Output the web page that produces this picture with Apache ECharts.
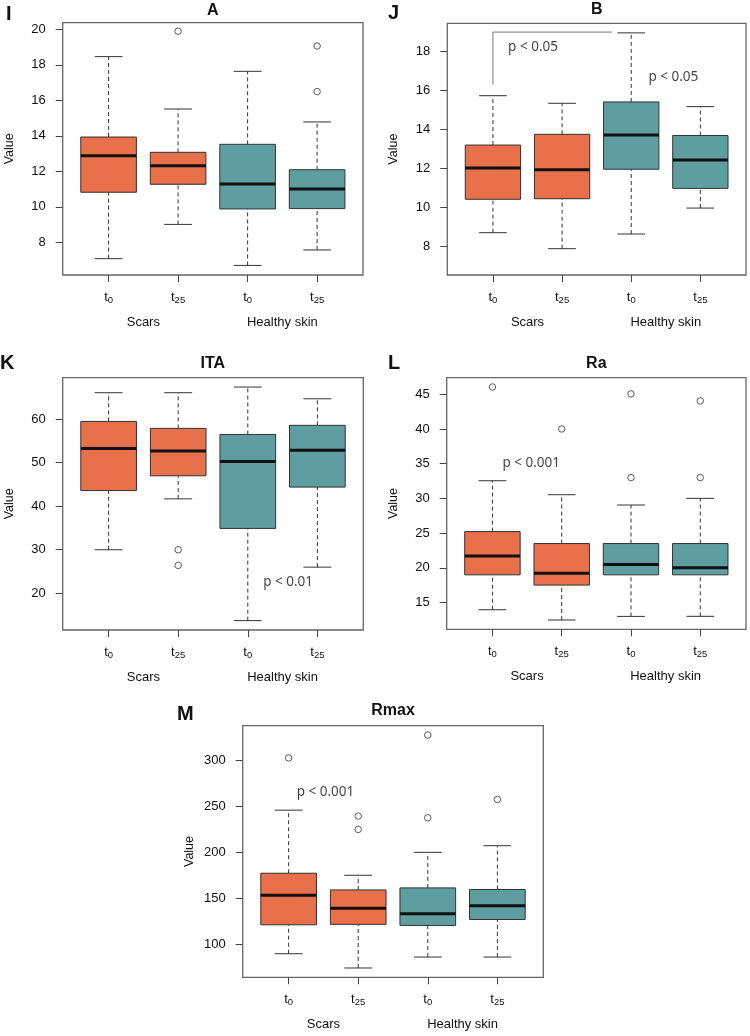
<!DOCTYPE html>
<html>
<head>
<meta charset="utf-8">
<script src="https://cdn.jsdelivr.net/npm/echarts@6/dist/echarts.min.js"></script>
<style>
html,body{margin:0;padding:0;background:#fff;}
#chart{width:750px;height:1036px;}
</style>
</head>
<body>
<div id="chart"></div>
<script>
// ---------------- data ----------------
const xPos = [1, 2, 3, 4];
const tickBase = 't';
const tickSub = ['0', '25', '0', '25'];
const groupLabels = ['Scars', 'Healthy skin'];
const groupPos = [1.5, 3.5];
const boxGroup = [0, 0, 1, 1];
const panelTitles = ['A', 'B', 'ITA', 'Ra', 'Rmax'];
const panelLetters = ['I', 'J', 'K', 'L', 'M'];

// [low whisker, Q1, median, Q3, high whisker]
const statsA = [[7.08, 10.82, 12.88, 13.93, 18.46], [9.01, 11.27, 12.32, 13.07, 15.51], [6.70, 9.88, 11.29, 13.52, 17.63], [7.57, 9.90, 11.00, 12.09, 14.78]];
const outA = [[2, 19.89], [4, 19.06], [4, 16.49]];
const ticksA = [8, 10, 12, 14, 16, 18, 20];

const statsB = [[8.72, 10.43, 12.03, 13.21, 15.74], [7.90, 10.46, 11.95, 13.76, 15.35], [8.65, 11.97, 13.73, 15.42, 18.96], [9.98, 10.99, 12.44, 13.70, 15.18]];
const outB = [];
const ticksB = [8, 10, 12, 14, 16, 18];

const statsITA = [[30.0, 43.6, 53.3, 59.5, 66.1], [41.7, 47.0, 52.7, 57.9, 66.1], [13.7, 34.9, 50.3, 56.5, 67.4], [26.0, 44.4, 52.9, 58.6, 64.7]];
const outITA = [[2, 30.0], [2, 26.4]];
const ticksITA = [20, 30, 40, 50, 60];

const statsRa = [[13.95, 18.98, 21.71, 25.21, 32.54], [12.47, 17.5, 19.22, 23.49, 30.53], [12.99, 18.98, 20.47, 23.49, 29.04], [13.0, 18.98, 19.99, 23.49, 30.0]];
const outRa = [[1, 46.05], [2, 40.0], [3, 45.05], [3, 33.0], [4, 44.04], [4, 33.0]];
const ticksRa = [15, 20, 25, 30, 35, 40, 45];

const statsRmax = [[89.9, 121.3, 153.4, 177.3, 245.8], [74.4, 121.8, 139.4, 159.2, 175.1], [86.3, 120.6, 133.2, 161.4, 200.0], [86.3, 127.1, 141.9, 159.6, 207.2]];
const outRmax = [[1, 302.5], [2, 239.4], [2, 224.9], [3, 327.4], [3, 237.5], [4, 257.4]];
const ticksRmax = [100, 150, 200, 250, 300];

// annotations [x, y, text]
const notesA = [];
const notesB = [[1.58, 18.25, 'p < 0.05'], [3.61, 16.71, 'p < 0.05']];
const notesITA = [[3.58, 22.6, 'p < 0.01']];
const notesRa = [[1.56, 35.06, 'p < 0.001']];
const notesRmax = [[1.53, 265.8, 'p < 0.001']];
const bracketB = [[1, 16.3], [1, 19.0], [2.72, 19.0]];

const yRanges = [[6.16, 20.37], [6.55, 19.45], [11.55, 69.55], [11.13, 47.39], [64.3, 337.5]];

// ---------------- layout / style ----------------
const fills = ['#E8704A', '#5F9EA0'];
const FONT = '"Liberation Sans", Arial, sans-serif';
const TXT = '#111';
const grids = [
  {left: 62.7, top: 22.7, width: 300.3, height: 252.3},
  {left: 447.3, top: 23.3, width: 298.7, height: 251.7},
  {left: 62.7, top: 377.7, width: 300.6, height: 252.3},
  {left: 446.7, top: 377.7, width: 299.3, height: 251.6},
  {left: 242.7, top: 725.7, width: 300.6, height: 251.6}
];
const titlePos = [[212.8, 10.5], [596.7, 10], [212.8, 364], [596.3, 364], [393, 710.5]];
const letterPos = [[6, 14], [388, 13], [0, 363], [388, 363], [177, 714]];

const panels = [
  {stats: statsA, out: outA, ticks: ticksA, notes: notesA},
  {stats: statsB, out: outB, ticks: ticksB, notes: notesB},
  {stats: statsITA, out: outITA, ticks: ticksITA, notes: notesITA},
  {stats: statsRa, out: outRa, ticks: ticksRa, notes: notesRa},
  {stats: statsRmax, out: outRmax, ticks: ticksRmax, notes: notesRmax}
];

const option = {
  animation: false,
  grid: [], xAxis: [], yAxis: [], series: [], graphic: []
};

function renderBox(params, api) {
  const x = api.value(0), lo = api.value(1), q1 = api.value(2), md = api.value(3), q3 = api.value(4), hi = api.value(5);
  const c = (a, b) => api.coord([a, b]);
  const fill = fills[boxGroup[params.dataIndex]];
  const line = (p, q, style) => ({type: 'line', shape: {x1: p[0], y1: p[1], x2: q[0], y2: q[1]}, style: style});
  const dash = {stroke: '#333', lineWidth: 1, lineDash: [4, 3]};
  const solid = {stroke: '#333', lineWidth: 1};
  const p1 = c(x - 0.4, q3), p2 = c(x + 0.4, q1);
  return {
    type: 'group',
    children: [
      line(c(x, q3), c(x, hi), dash),
      line(c(x, lo), c(x, q1), dash),
      line(c(x - 0.2, hi), c(x + 0.2, hi), solid),
      line(c(x - 0.2, lo), c(x + 0.2, lo), solid),
      {type: 'rect', shape: {x: p1[0], y: p1[1], width: p2[0] - p1[0], height: p2[1] - p1[1]}, style: {fill: fill, stroke: '#333', lineWidth: 1}},
      line(c(x - 0.4, md), c(x + 0.4, md), {stroke: '#111', lineWidth: 3})
    ]
  };
}

panels.forEach((p, i) => {
  option.grid.push(Object.assign({show: true, borderColor: '#666', borderWidth: 1.3, backgroundColor: 'transparent', containLabel: false}, grids[i]));
  option.xAxis.push({
    type: 'value', gridIndex: i, min: 0.34, max: 4.66,
    axisLine: {show: false}, splitLine: {show: false},
    axisTick: {show: true, length: 7, lineStyle: {color: '#444'}, customValues: xPos},
    axisLabel: {
      customValues: xPos, margin: 14,
      formatter: v => '{b|' + tickBase + '}{s|' + tickSub[Math.round(v) - 1] + '}',
      rich: {b: {fontSize: 13, fontFamily: FONT, color: TXT}, s: {fontSize: 9.5, fontFamily: FONT, color: TXT, padding: [6, 0, 0, 0]}}
    }
  });
  option.xAxis.push({
    type: 'value', gridIndex: i, min: 0.34, max: 4.66, position: 'bottom',
    axisLine: {show: false}, splitLine: {show: false}, axisTick: {show: false},
    axisLabel: {customValues: groupPos, margin: 41, fontSize: 13, fontFamily: FONT, color: TXT,
      formatter: v => groupLabels[v < 2.5 ? 0 : 1]}
  });
  option.yAxis.push({
    type: 'value', gridIndex: i, min: yRanges[i][0], max: yRanges[i][1],
    name: 'Value', nameLocation: 'middle', nameGap: 47,
    nameTextStyle: {fontSize: 12.5, fontFamily: FONT, color: TXT},
    axisLine: {show: false}, splitLine: {show: false},
    axisTick: {show: true, length: 7, lineStyle: {color: '#444'}, customValues: p.ticks},
    axisLabel: {customValues: p.ticks, margin: 17, fontSize: 13, fontFamily: FONT, color: TXT}
  });
  option.series.push({
    type: 'custom', xAxisIndex: 2 * i, yAxisIndex: i,
    renderItem: renderBox, encode: {x: 0, y: [1, 2, 3, 4, 5]},
    data: p.stats.map((s, j) => [xPos[j]].concat(s))
  });
  option.series.push({
    type: 'scatter', xAxisIndex: 2 * i, yAxisIndex: i, symbol: 'circle', symbolSize: 6.5,
    itemStyle: {color: '#fff', borderColor: '#333', borderWidth: 1},
    data: p.out
  });
  option.series.push({
    type: 'scatter', xAxisIndex: 2 * i, yAxisIndex: i, symbolSize: 1,
    itemStyle: {color: 'rgba(0,0,0,0)'},
    label: {show: true, position: 'inside', formatter: d => d.data[2], fontSize: 13.5, fontFamily: '"Noto Sans", sans-serif', color: TXT},
    data: p.notes
  });
  option.graphic.push({type: 'text', x: titlePos[i][0], y: titlePos[i][1], style: {text: panelTitles[i], font: 'bold 16px ' + FONT, fill: '#111', textAlign: 'center', textVerticalAlign: 'middle'}});
  option.graphic.push({type: 'text', x: letterPos[i][0], y: letterPos[i][1], style: {text: panelLetters[i], font: 'bold 20px ' + FONT, fill: '#111', textAlign: 'left', textVerticalAlign: 'middle'}});
});

option.series.push({
  type: 'line', xAxisIndex: 2, yAxisIndex: 1, data: bracketB, showSymbol: false, symbol: 'none',
  lineStyle: {color: '#777', width: 1}
});

const chart = echarts.init(document.getElementById('chart'), null, {renderer: 'canvas'});
chart.setOption(option);
</script>
</body>
</html>
